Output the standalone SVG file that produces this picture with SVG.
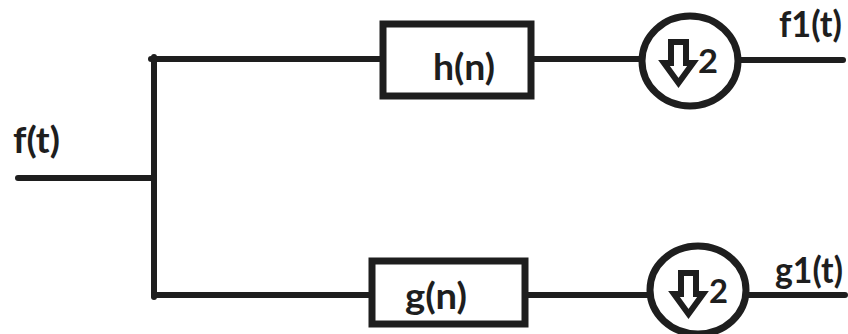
<svg xmlns="http://www.w3.org/2000/svg" width="848" height="334" viewBox="0 0 848 334">
<style>
.w{fill:none;stroke:#1e1e1e;stroke-width:6;stroke-linecap:round;stroke-linejoin:round}
.b{fill:#fff;stroke:#1e1e1e;stroke-width:7}
.c{fill:#fff;stroke:#1e1e1e;stroke-width:7}
.a{fill:#fff;stroke:#1e1e1e;stroke-width:6;stroke-linejoin:miter}
.t{font-family:Lato,"Liberation Sans",sans-serif;font-weight:bold;font-size:37px;fill:#1e1e1e}
.n{font-family:Lato,"Liberation Sans",sans-serif;font-weight:bold;font-size:32px;fill:#1e1e1e}
</style>
<rect width="848" height="334" fill="#fff"/>
<g id="connectors">
<path class="w" d="M18 178 H154"/>
<path class="w" d="M154 57 V297"/>
<path class="w" d="M151 59 H383"/>
<path class="w" d="M154 295 H372"/>
<path class="w" d="M531 59 H642"/>
<path class="w" d="M525 295 H650"/>
<path class="w" d="M738 60 H843"/>
<path class="w" d="M746 295 H845"/>
</g>
<g id="input"><text class="t" x="13" y="153" textLength="47" lengthAdjust="spacingAndGlyphs">f(t)</text></g>
<g id="h">
<rect class="b" x="383" y="24" width="148" height="72"/>
<text class="t" x="433" y="80" textLength="62" lengthAdjust="spacingAndGlyphs">h(n)</text>
</g>
<g id="g">
<rect class="b" x="372" y="261" width="153" height="63"/>
<text class="t" x="405" y="309" textLength="62" lengthAdjust="spacingAndGlyphs">g(n)</text>
</g>
<g id="down1">
<ellipse class="c" cx="690" cy="61" rx="48" ry="45"/>
<path class="a" d="M671 42 H686 V63 H693 L678.5 83 L664 63 H671 Z"/>
<text class="n" x="698" y="73" textLength="20" lengthAdjust="spacingAndGlyphs">2</text>
</g>
<g id="down2">
<ellipse class="c" cx="698" cy="290" rx="48" ry="44"/>
<path class="a" d="M681 273 H696 V294 H703 L688.5 314 L674 294 H681 Z"/>
<text class="n" x="709" y="303" textLength="19" lengthAdjust="spacingAndGlyphs">2</text>
</g>
<g id="out1"><text class="t" x="779" y="37" textLength="63" lengthAdjust="spacingAndGlyphs">f1(t)</text></g>
<g id="out2"><text class="t" x="775" y="283" textLength="68" lengthAdjust="spacingAndGlyphs">g1(t)</text></g>
</svg>
